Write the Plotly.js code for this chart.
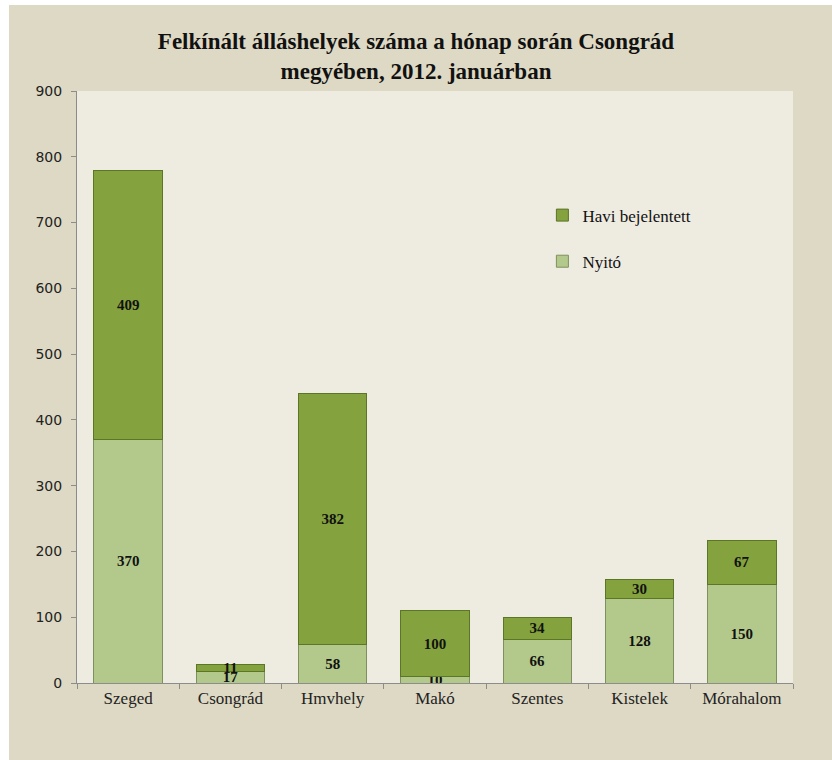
<!DOCTYPE html>
<html>
<head>
<meta charset="utf-8">
<script src="https://cdn.plot.ly/plotly-3.0.1.min.js"></script>
<style>html,body{margin:0;padding:0;background:#fff;}#chart{width:832px;height:760px;}</style>
</head>
<body>
<div id="chart"></div>
<script>
const categories = ['Szeged', 'Csongrád', 'Hmvhely', 'Makó', 'Szentes', 'Kistelek', 'Mórahalom'];
const nyito = [370, 17, 58, 10, 66, 128, 150];
const havi = [409, 11, 382, 100, 34, 30, 67];
const yTicks = [0, 100, 200, 300, 400, 500, 600, 700, 800, 900];

const serif = 'Liberation Serif, Times New Roman, serif';
const labelFont = {family: serif, size: 15, color: '#111', weight: 'bold'};

const traces = [
  {
    type: 'bar', name: 'Nyitó', x: categories, y: nyito, legendgroup: 'a', legendrank: 2,
    marker: {color: '#b3c98b', line: {color: '#7f905f', width: 1}},
    texttemplate: '<b>%{y}</b>', textposition: 'inside', insidetextanchor: 'middle', textangle: 0,
    textfont: labelFont, hoverinfo: 'none'
  },
  {
    type: 'bar', name: 'Havi bejelentett', x: categories, y: havi, legendgroup: 'b', legendrank: 1,
    marker: {color: '#84a23d', line: {color: '#5c7526', width: 1}},
    texttemplate: '<b>%{y}</b>', textposition: 'inside', insidetextanchor: 'middle', textangle: 0,
    textfont: labelFont, hoverinfo: 'none'
  }
];

const layout = {
  width: 832, height: 760,
  margin: {l: 77, r: 39, t: 91, b: 77},
  paper_bgcolor: '#ded9c4',
  plot_bgcolor: '#eeebe1',
  barmode: 'stack',
  bargap: 0.33,
  uniformtext: {mode: 'show', minsize: 15},
  showlegend: true,
  title: {
    text: '<b>Felkínált álláshelyek száma a hónap során Csongrád<br>megyében, 2012. januárban</b>',
    font: {family: serif, size: 23, color: '#111'},
    x: 0.5, xanchor: 'center', xref: 'container',
    y: 0.936, yanchor: 'middle', yref: 'container'
  },
  legend: {
    x: 0.65, y: 0.82, xanchor: 'left', yanchor: 'top',
    bgcolor: 'rgba(0,0,0,0)',
    font: {family: serif, size: 17, color: '#111'},
    traceorder: 'grouped', tracegroupgap: 21,
    itemwidth: 30
  },
  xaxis: {
    type: 'category',
    showline: true, linecolor: '#8c8c8c', linewidth: 1,
    ticks: 'outside', tickson: 'boundaries', ticklen: 5, tickcolor: '#8c8c8c',
    tickfont: {family: serif, size: 17, color: '#222'},
    showgrid: false, zeroline: false
  },
  yaxis: {
    range: [0, 900],
    tickvals: yTicks,
    ticktext: yTicks.map(String),
    showline: true, linecolor: '#8c8c8c', linewidth: 1,
    ticks: 'outside', ticklen: 5, tickcolor: '#8c8c8c',
    ticklabelstandoff: 6,
    tickfont: {family: 'DejaVu Sans, Verdana, sans-serif', size: 14, color: '#222'},
    showgrid: false, zeroline: false
  },
  shapes: [
    {type: 'rect', xref: 'paper', yref: 'paper', x0: -0.2, x1: (9 - 77) / 716, y0: -0.2, y1: 1.3,
     fillcolor: '#ffffff', line: {width: 0}, layer: 'below'},
    {type: 'rect', xref: 'paper', yref: 'paper', x0: -0.2, x1: 1.2, y0: (683 - 5) / 592, y1: 1.3,
     fillcolor: '#ffffff', line: {width: 0}, layer: 'below'}
  ]
};

Plotly.newPlot('chart', traces, layout, {displayModeBar: false, staticPlot: true});
</script>
</body>
</html>
